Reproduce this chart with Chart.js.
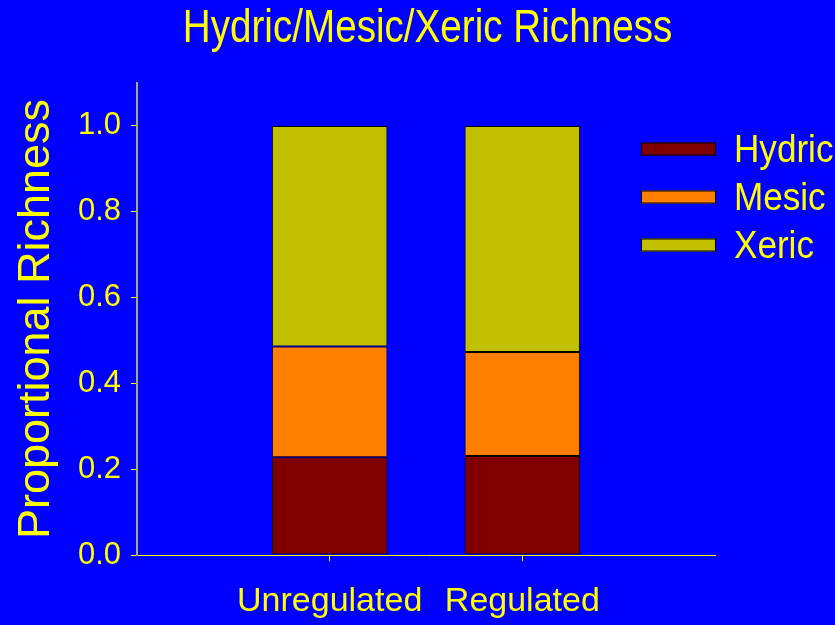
<!DOCTYPE html>
<html>
<head>
<meta charset="utf-8">
<script src="https://cdn.jsdelivr.net/npm/chart.js@4/dist/chart.umd.min.js"></script>
<style>
  html, body { margin: 0; padding: 0; background: #0000ff; }
  #wrap { width: 835px; height: 625px; }
</style>
</head>
<body>
<div id="wrap"><canvas id="canvas" width="835" height="625"></canvas></div>
<script>
// values
var categories = ['Unregulated', 'Regulated'];
var seriesNames = ['Hydric', 'Mesic', 'Xeric'];
var hydric = [0.228, 0.231];
var mesic = [0.258, 0.242];
var xeric = [0.514, 0.527];
var yTicks = [0.0, 0.2, 0.4, 0.6, 0.8, 1.0];
var chartTitle = 'Hydric/Mesic/Xeric Richness';

var colors = ['#800000', '#ff8000', '#c0c000'];
var yellow = '#ffff00';
var font = "'Liberation Sans', Arial, sans-serif";

function toPoints(vals) {
  return vals.map(function (v, i) { return { x: i + 1, y: v }; });
}

// text squeezed sideways, like the narrow face in the original slide
function narrowText(ctx, text, x, y, size, squeeze, align, baseline) {
  ctx.save();
  ctx.font = size + 'px ' + font;
  ctx.fillStyle = yellow;
  ctx.textAlign = align;
  ctx.textBaseline = baseline;
  ctx.translate(x, y);
  ctx.scale(squeeze, 1);
  ctx.fillText(text, 0, 0);
  ctx.restore();
}

// title + legend in the upper right, over the end of the plot
var slideText = {
  id: 'slideText',
  afterDraw: function (chart) {
    var ctx = chart.ctx;
    var area = chart.chartArea;
    narrowText(ctx, chartTitle, 427.5, 42, 46, 0.84, 'center', 'alphabetic');
    ctx.save();
    chart.data.datasets.forEach(function (ds, i) {
      var cy = 149 + i * 48;
      var bx = area.right - 74;
      ctx.fillStyle = ds.backgroundColor;
      ctx.fillRect(bx, cy - 6.5, 75, 13);
      ctx.strokeStyle = '#000000';
      ctx.lineWidth = 1;
      ctx.strokeRect(bx + 0.5, cy - 6, 74, 12);
      narrowText(ctx, ds.label, bx + 93, cy + 13, 39, 0.9, 'left', 'alphabetic');
    });
    ctx.restore();
  }
};

var ctx = document.getElementById('canvas').getContext('2d');
var myChart = new Chart(ctx, {
  type: 'bar',
  data: {
    datasets: [
      { label: seriesNames[0], data: toPoints(hydric), backgroundColor: colors[0] },
      { label: seriesNames[1], data: toPoints(mesic), backgroundColor: colors[1] },
      { label: seriesNames[2], data: toPoints(xeric), backgroundColor: colors[2] }
    ]
  },
  options: {
    responsive: false,
    animation: false,
    layout: { padding: { left: 0, right: 120, top: 83, bottom: 0 } },
    datasets: {
      bar: {
        borderColor: '#000000',
        borderWidth: 1,
        borderSkipped: false,
        barPercentage: 0.6,
        categoryPercentage: 1.0
      }
    },
    plugins: {
      legend: { display: false },
      tooltip: { enabled: false },
      title: { display: false }
    },
    scales: {
      x: {
        type: 'linear',
        stacked: true,
        offset: false,
        min: 0,
        max: categories.length + 1,
        afterBuildTicks: function (scale) {
          scale.ticks = categories.map(function (c, i) { return { value: i + 1 }; });
        },
        afterFit: function (scale) { scale.height = 70; },
        ticks: {
          color: yellow,
          font: { family: font, size: 34 },
          padding: 20,
          maxRotation: 0,
          autoSkip: false,
          callback: function (v) { return categories[v - 1]; }
        },
        grid: { offset: false, drawOnChartArea: false, drawTicks: true, tickLength: 6, color: yellow },
        border: { color: yellow, width: 1 }
      },
      y: {
        stacked: true,
        min: 0,
        max: 1.1,
        afterBuildTicks: function (scale) {
          scale.ticks = yTicks.map(function (v) { return { value: v }; });
        },
        afterFit: function (scale) { scale.width = 137; },
        ticks: {
          color: yellow,
          font: { family: font, size: 31 },
          padding: 10,
          callback: function (v) { return Number(v).toFixed(1); }
        },
        grid: { drawOnChartArea: false, drawTicks: true, tickLength: 6, color: yellow },
        border: { color: '#a8a878', width: 2 },
        title: {
          display: true,
          text: 'Proportional Richness',
          color: yellow,
          font: { family: font, size: 45 },
          padding: { top: 10, bottom: 0 }
        }
      }
    }
  },
  plugins: [slideText]
});
</script>
</body>
</html>
